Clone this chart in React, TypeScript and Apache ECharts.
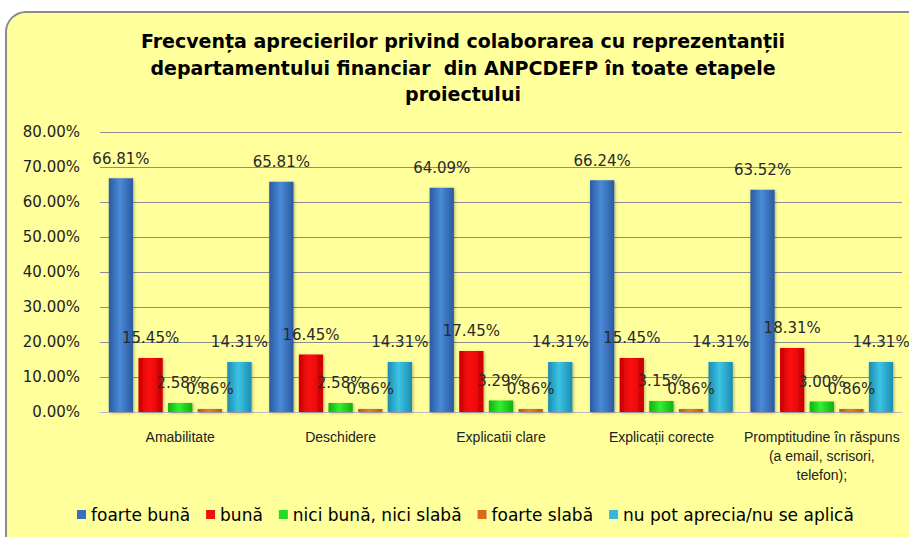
import React, { useEffect, useRef } from "react";
import * as echarts from "echarts";

const categories = [
  "Amabilitate",
  "Deschidere",
  "Explicatii clare",
  "Explicații corecte",
  "Promptitudine în răspuns\n(a email, scrisori,\ntelefon);",
];
const seriesNames = [
  "foarte bună",
  "bună",
  "nici bună, nici slabă",
  "foarte slabă",
  "nu pot aprecia/nu se aplică",
];
const foarteBuna = [66.81, 65.81, 64.09, 66.24, 63.52];
const buna = [15.45, 16.45, 17.45, 15.45, 18.31];
const niciBuna = [2.58, 2.58, 3.29, 3.15, 3.0];
const foarteSlaba = [0.86, 0.86, 0.86, 0.86, 0.86];
const nuPot = [14.31, 14.31, 14.31, 14.31, 14.31];
const yTicks = [0, 10, 20, 30, 40, 50, 60, 70, 80];

const seriesValues = [foarteBuna, buna, niciBuna, foarteSlaba, nuPot];
const colorStops = [
  ["#2a5aa0", "#4a8ad8", "#2a5aa0"],
  ["#c80000", "#ff1010", "#c80000"],
  ["#10b010", "#30f030", "#10b010"],
  ["#b85a10", "#e8802a", "#b85a10"],
  ["#1c8cb0", "#3cc4e4", "#1c8cb0"],
];
const legendColors = ["#3a6fc0", "#ee1111", "#22dd22", "#d86a1a", "#33b8dc"];

export default function App() {
  const ref = useRef<HTMLDivElement>(null);
  useEffect(() => {
    if (!ref.current) return;
    const chart = echarts.init(ref.current, undefined, { renderer: "svg" });
    const font = "'DejaVu Sans', Arial, sans-serif";
    const narrow = "'Liberation Sans Narrow', 'Arial Narrow', 'Liberation Sans', sans-serif";
    chart.setOption({
      animation: false,
      backgroundColor: "#ffffff",
      graphic: [
        {
          type: "rect",
          z: -10,
          silent: true,
          shape: { x: 6, y: 12, width: 930, height: 560, r: 20 },
          style: { fill: "#ffff9c", stroke: "#8c8c8c", lineWidth: 2 },
        },
      ],
      title: {
        text:
          "Frecvența aprecierilor privind colaborarea cu reprezentanții\ndepartamentului financiar  din ANPCDEFP în toate etapele\nproiectului",
        left: 458,
        textAlign: "center",
        top: 23,
        textStyle: {
          fontFamily: font,
          fontWeight: "bold",
          fontSize: 19,
          lineHeight: 26.5,
          color: "#000",
        },
      },
      legend: {
        bottom: 9,
        left: 72,
        itemWidth: 9,
        itemHeight: 9,
        itemGap: 16,
        icon: "rect",
        textStyle: { fontFamily: font, fontSize: 17, color: "#000" },
        data: seriesNames.map((n, i) => ({
          name: n,
          itemStyle: { color: legendColors[i] },
        })),
      },
      grid: { left: 100, right: 7, top: 132, bottom: 125 },
      xAxis: {
        type: "category",
        data: categories,
        axisTick: { show: false },
        axisLine: { lineStyle: { color: "#bdbdbd" } },
        axisLabel: {
          fontFamily: narrow,
          fontSize: 14,
          lineHeight: 19,
          color: "#222",
          margin: 15,
          interval: 0,
        },
      },
      yAxis: {
        type: "value",
        min: 0,
        max: 80,
        interval: 10,
        axisLine: { show: false },
        axisTick: { show: false },
        splitLine: { lineStyle: { color: "#8c8c8c" } },
        axisLabel: {
          fontFamily: font,
          fontSize: 15,
          color: "#222",
          margin: 20,
          formatter: (v: number) => v.toFixed(2) + "%",
        },
      },
      series: seriesNames.map((name, i) => ({
        name,
        type: "bar",
        data: seriesValues[i],
        barGap: "22%",
        barCategoryGap: "11%",
        itemStyle: {
          color: new echarts.graphic.LinearGradient(0, 0, 1, 0, [
            { offset: 0, color: colorStops[i][0] },
            { offset: 0.45, color: colorStops[i][1] },
            { offset: 1, color: colorStops[i][2] },
          ]),
          shadowColor: "rgba(0,0,0,0.3)",
          shadowBlur: 3,
          shadowOffsetX: 1,
          shadowOffsetY: 1,
        },
        label: {
          show: true,
          position: "top",
          distance: 12,
          fontFamily: "'DejaVu Sans', sans-serif",
          fontSize: 15,
          color: "#2a2a2a",
          formatter: (p: any) => p.value.toFixed(2) + "%",
        },
      })),
    });
    return () => chart.dispose();
  }, []);
  return (
    <div
      ref={ref}
      style={{ position: "absolute", left: 0, top: 0, width: 909, height: 537 }}
    />
  );
}
